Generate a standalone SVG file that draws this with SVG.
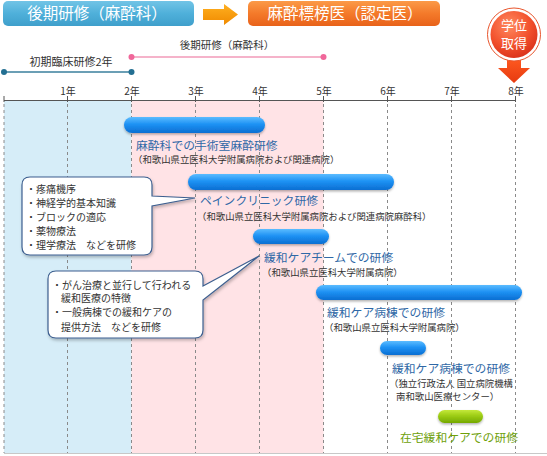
<svg xmlns="http://www.w3.org/2000/svg" width="547" height="456" viewBox="0 0 547 456">
<defs>
<style>
text{font-family:"Noto Sans CJK JP","Noto Sans",sans-serif}
.hdr{font-size:15.5px;fill:#fff;text-anchor:middle}
.yr{font-size:10px;fill:#333;text-anchor:middle}
.lbl{font-size:11px;fill:#333;text-anchor:middle}
.ttl{font-size:11.8px;fill:#2f68a6}
.sub{font-size:9.4px;fill:#333}
.co{font-size:10px;fill:#333}
.grid{stroke:#8a8a8a;stroke-width:1;stroke-dasharray:3,3}
.bar{fill:url(#gBar);filter:url(#sh)}
.callout{fill:#fff;stroke:#3d5f8f;stroke-width:1.2;filter:url(#sh2)}
</style>
<linearGradient id="gBlue" x1="0" y1="0" x2="0" y2="1">
<stop offset="0" stop-color="#72c4e6"/><stop offset="0.5" stop-color="#4fb0da"/><stop offset="1" stop-color="#3f9fcb"/>
</linearGradient>
<linearGradient id="gOrange" x1="0" y1="0" x2="0" y2="1">
<stop offset="0" stop-color="#fb9a48"/><stop offset="0.5" stop-color="#f47a2a"/><stop offset="1" stop-color="#e8621a"/>
</linearGradient>
<linearGradient id="gArrow" x1="0" y1="0" x2="0" y2="1">
<stop offset="0" stop-color="#ffb020"/><stop offset="1" stop-color="#f08a00"/>
</linearGradient>
<linearGradient id="gBar" x1="0" y1="0" x2="0" y2="1">
<stop offset="0" stop-color="#5cbcff"/><stop offset="0.45" stop-color="#1e92f4"/><stop offset="1" stop-color="#0a6ed2"/>
</linearGradient>
<linearGradient id="gGreen" x1="0" y1="0" x2="0" y2="1">
<stop offset="0" stop-color="#c4e83a"/><stop offset="0.45" stop-color="#9ccc14"/><stop offset="1" stop-color="#74a800"/>
</linearGradient>
<radialGradient id="gBadge" cx="0.4" cy="0.3" r="0.75">
<stop offset="0" stop-color="#ff8a60"/><stop offset="0.6" stop-color="#f2502c"/><stop offset="1" stop-color="#d8301a"/>
</radialGradient>
<linearGradient id="gDown" x1="0" y1="0" x2="0" y2="1">
<stop offset="0" stop-color="#ff5a20"/><stop offset="1" stop-color="#e63a10"/>
</linearGradient>
<filter id="sh" x="-10%" y="-30%" width="120%" height="180%">
<feDropShadow dx="0" dy="1.5" stdDeviation="1.2" flood-color="#000" flood-opacity="0.3"/>
</filter>
<filter id="sh2" x="-10%" y="-10%" width="120%" height="130%">
<feDropShadow dx="1" dy="2" stdDeviation="1.5" flood-color="#000" flood-opacity="0.25"/>
</filter>
</defs>

<!-- background regions -->
<rect x="4" y="100" width="127.5" height="353" fill="#d6edf8"/>
<rect x="131.5" y="100" width="192" height="353" fill="#ffe3e6"/>
<line x1="4" y1="453.5" x2="547" y2="453.5" stroke="#c8c8c8" stroke-width="1"/>

<!-- grid -->
<g id="grid">
<line class="grid" x1="4" y1="104" x2="4" y2="453"/>
<line class="grid" x1="67.5" y1="104" x2="67.5" y2="453"/>
<line class="grid" x1="131.5" y1="104" x2="131.5" y2="453"/>
<line class="grid" x1="195.5" y1="104" x2="195.5" y2="453"/>
<line class="grid" x1="259.5" y1="104" x2="259.5" y2="453"/>
<line class="grid" x1="323.5" y1="104" x2="323.5" y2="453"/>
<line class="grid" x1="387.5" y1="104" x2="387.5" y2="453"/>
<line class="grid" x1="451.5" y1="104" x2="451.5" y2="453"/>
<line class="grid" x1="515.5" y1="104" x2="515.5" y2="453"/>
</g>

<!-- axis -->
<g id="axis" stroke="#555" stroke-width="1">
<line x1="4" y1="100.5" x2="515.5" y2="100.5"/>
<line x1="4" y1="96" x2="4" y2="102"/>
<line x1="67.5" y1="96" x2="67.5" y2="102"/>
<line x1="131.5" y1="96" x2="131.5" y2="102"/>
<line x1="195.5" y1="96" x2="195.5" y2="102"/>
<line x1="259.5" y1="96" x2="259.5" y2="102"/>
<line x1="323.5" y1="96" x2="323.5" y2="102"/>
<line x1="387.5" y1="96" x2="387.5" y2="102"/>
<line x1="451.5" y1="96" x2="451.5" y2="102"/>
<line x1="515.5" y1="96" x2="515.5" y2="102"/>
</g>
<g id="years">
<text class="yr" x="68" y="94.8">1年</text>
<text class="yr" x="132" y="94.8">2年</text>
<text class="yr" x="196" y="94.8">3年</text>
<text class="yr" x="260" y="94.8">4年</text>
<text class="yr" x="324" y="94.8">5年</text>
<text class="yr" x="388" y="94.8">6年</text>
<text class="yr" x="452" y="94.8">7年</text>
<text class="yr" x="516" y="94.8">8年</text>
</g>

<!-- header -->
<g id="header-kouki">
<rect x="3" y="1" width="191" height="25" rx="5" fill="url(#gBlue)"/>
<text class="hdr" x="97" y="19.3">後期研修（麻酔科）</text>
</g>
<g id="header-arrow">
<path d="M203,9 H224 V4 L238,14.5 L224,25 V20 H203 Z" fill="url(#gArrow)"/>
</g>
<g id="header-hyobo">
<rect x="248" y="1" width="192" height="25" rx="5" fill="url(#gOrange)"/>
<text class="hdr" x="345" y="19.3">麻酔標榜医（認定医）</text>
</g>

<!-- period lines -->
<g id="shoki">
<line x1="4" y1="72" x2="131.5" y2="72" stroke="#3a7f9c" stroke-width="1.6"/>
<circle cx="4" cy="72" r="3" fill="#236f92"/>
<circle cx="131.5" cy="72" r="3" fill="#236f92"/>
<text class="lbl" x="71" y="66.3">初期臨床研修2年</text>
</g>
<g id="kouki">
<line x1="131.5" y1="57" x2="323.5" y2="57" stroke="#f29ab8" stroke-width="1.6"/>
<circle cx="131.5" cy="57" r="3" fill="#f0679a"/>
<circle cx="323.5" cy="57" r="3" fill="#f0679a"/>
<text class="lbl" x="227" y="49" style="font-size:10.5px">後期研修（麻酔科）</text>
</g>

<!-- badge -->
<g id="badge">
<path d="M507,58 H521 V68 H530 L514,83 L498,68 H507 Z" fill="url(#gDown)"/>
<circle cx="514" cy="34.5" r="26.5" fill="#fff" stroke="#e8552c" stroke-width="1"/>
<circle cx="514" cy="34.5" r="23.5" fill="url(#gBadge)"/>
<text x="514" y="29.5" style="font-size:13px;fill:#fff;text-anchor:middle">学位</text>
<text x="514" y="48" style="font-size:13px;fill:#fff;text-anchor:middle">取得</text>
</g>

<!-- callouts -->
<g id="callout-pain">
<path class="callout" d="M30,177 H144 Q152,177 152,185 V196 L195,198 L152,206 V247 Q152,255 144,255 H30 Q22,255 22,247 V185 Q22,177 30,177 Z"/>
<text class="co" x="26" y="192.8">・疼痛機序</text>
<text class="co" x="26" y="206.8">・神経学的基本知識</text>
<text class="co" x="26" y="220.8">・ブロックの適応</text>
<text class="co" x="26" y="234.8">・薬物療法</text>
<text class="co" x="26" y="248.8">・理学療法　などを研修</text>
</g>
<g id="callout-kanwa">
<path class="callout" d="M56,271 H195 Q203,271 203,279 V286 L259,256 L203,300 V330 Q203,338 195,338 H56 Q48,338 48,330 V279 Q48,271 56,271 Z"/>
<text class="co" x="52" y="288.8">・がん治療と並行して行われる</text>
<text class="co" x="61" y="302.3">緩和医療の特徴</text>
<text class="co" x="52" y="316.3">・一般病棟での緩和ケアの</text>
<text class="co" x="61" y="330.8">提供方法　などを研修</text>
</g>

<!-- training bars -->
<g id="bar-masui">
<rect class="bar" x="124" y="117" width="141" height="16" rx="8"/>
<text class="ttl" x="136" y="149.5">麻酔科での手術室麻酔研修</text>
<text class="sub" x="133" y="162.6">（和歌山県立医科大学附属病院および関連病院）</text>
</g>
<g id="bar-pain">
<rect class="bar" x="188" y="174" width="206" height="16" rx="8"/>
<text class="ttl" x="200" y="204.5">ペインクリニック研修</text>
<text class="sub" x="197" y="219.6">（和歌山県立医科大学附属病院および関連病院麻酔科）</text>
</g>
<g id="bar-team">
<rect class="bar" x="253" y="229" width="76" height="15" rx="7.5"/>
<text class="ttl" x="264" y="261.5">緩和ケアチームでの研修</text>
<text class="sub" x="262" y="275.6">（和歌山県立医科大学附属病院）</text>
</g>
<g id="bar-byoto1">
<rect class="bar" x="316" y="285" width="206" height="15" rx="7.5"/>
<text class="ttl" x="327" y="316.5">緩和ケア病棟での研修</text>
<text class="sub" x="324" y="330.6">（和歌山県立医科大学附属病院）</text>
</g>
<g id="bar-byoto2">
<rect class="bar" x="380" y="341" width="46" height="14" rx="7"/>
<text class="ttl" x="392" y="372.5">緩和ケア病棟での研修</text>
<text class="sub" x="389" y="386.6">（独立行政法人 国立病院機構</text>
<text class="sub" x="396" y="399.6">南和歌山医療センター）</text>
</g>
<g id="bar-zaitaku">
<rect x="438" y="410" width="45" height="13" rx="6.5" fill="url(#gGreen)" filter="url(#sh)"/>
<text class="ttl" x="400" y="441.5" style="fill:#6ea00a">在宅緩和ケアでの研修</text>
</g>
</svg>
